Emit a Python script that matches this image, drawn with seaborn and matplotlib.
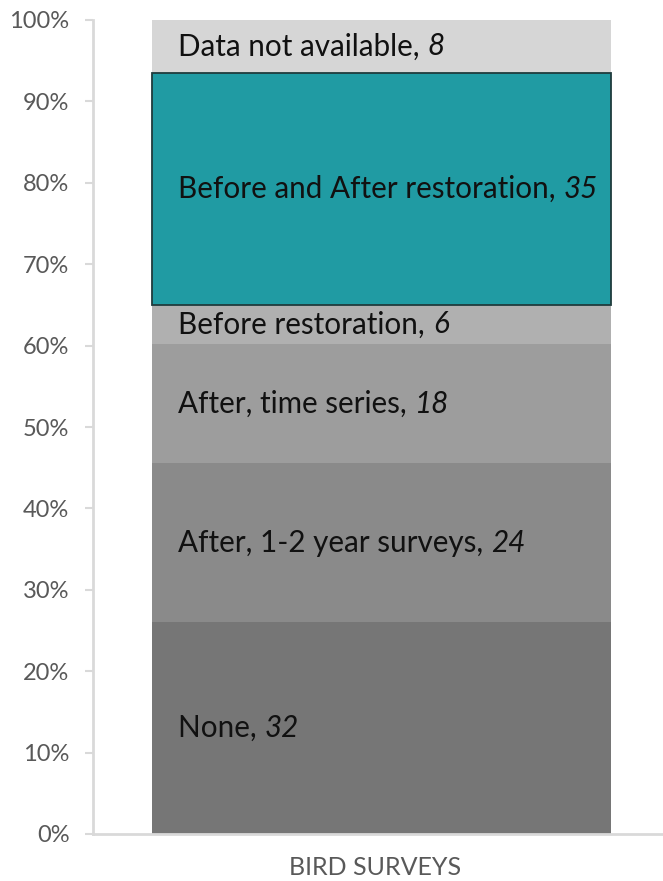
import matplotlib
matplotlib.use("Agg")
import matplotlib.pyplot as plt
import matplotlib.transforms as mtransforms
import seaborn as sns
import pandas as pd
import numpy as np

categories = ["None", "After, 1-2 year surveys", "After, time series",
              "Before restoration", "Before and After restoration", "Data not available"]
counts = [32, 24, 18, 6, 35, 8]
colors = ["#767676", "#8a8a8a", "#9d9d9d", "#b0b0b0", "#209ba3", "#d6d6d6"]
group = "BIRD SURVEYS"
yticks = [0, 10, 20, 30, 40, 50, 60, 70, 80, 90, 100]
ytick_labels = [f"{v}%" for v in yticks]

total = sum(counts)
pcts = [c / total * 100 for c in counts]
bottoms = np.concatenate([[0], np.cumsum(pcts)[:-1]])

sns.set_theme(style="white")
plt.rcParams["font.family"] = ["Lato", "DejaVu Sans"]

fig = plt.figure(figsize=(6.63, 8.81), dpi=100)
ax = fig.add_axes([93 / 663, 47 / 881, 570 / 663, 814 / 881])

for cat, p, b, col in zip(categories, pcts, bottoms, colors):
    df = pd.DataFrame({"group": [group], "pct": [p]})
    is_teal = cat.startswith("Before and After")
    sns.barplot(data=df, x="group", y="pct", ax=ax, color=col, saturation=1,
                width=0.8, bottom=b, errorbar=None,
                edgecolor="#1f3b3d" if is_teal else "none",
                linewidth=1.3 if is_teal else 0, zorder=3 if is_teal else 2)

for cat, cnt, p, b in zip(categories, counts, pcts, bottoms):
    t = ax.text(-0.354, b + p / 2, f"{cat}, ", ha="left", va="center",
                fontsize=21.3, color="#111111", zorder=5)
    ax.annotate(f"{cnt}", xy=(1, 0), xycoords=t, ha="left", va="bottom",
                fontsize=21.3, style="italic", color="#111111", zorder=5)

ax.set_xlim(-0.503, 0.4905)
ax.set_ylim(0, 100)
ax.set_yticks(yticks)
ax.set_yticklabels(ytick_labels)
ax.set_ylabel("")
ax.set_xlabel("")
ax.tick_params(axis="y", which="both", left=True, length=6, width=1.5,
               color="#d9d9d9", labelsize=17, labelcolor="#595959", pad=11)
ax.tick_params(axis="x", bottom=False, labelsize=18, labelcolor="#595959", pad=10)
shift = mtransforms.ScaledTranslation(-7 / 100, 0, fig.dpi_scale_trans)
for lab in ax.get_xticklabels():
    lab.set_transform(lab.get_transform() + shift)

for side in ["top", "right"]:
    ax.spines[side].set_visible(False)
for side in ["left", "bottom"]:
    ax.spines[side].set_color("#d9d9d9")
    ax.spines[side].set_linewidth(2)
    ax.spines[side].set_visible(True)

fig.savefig("out.png", dpi=100)
